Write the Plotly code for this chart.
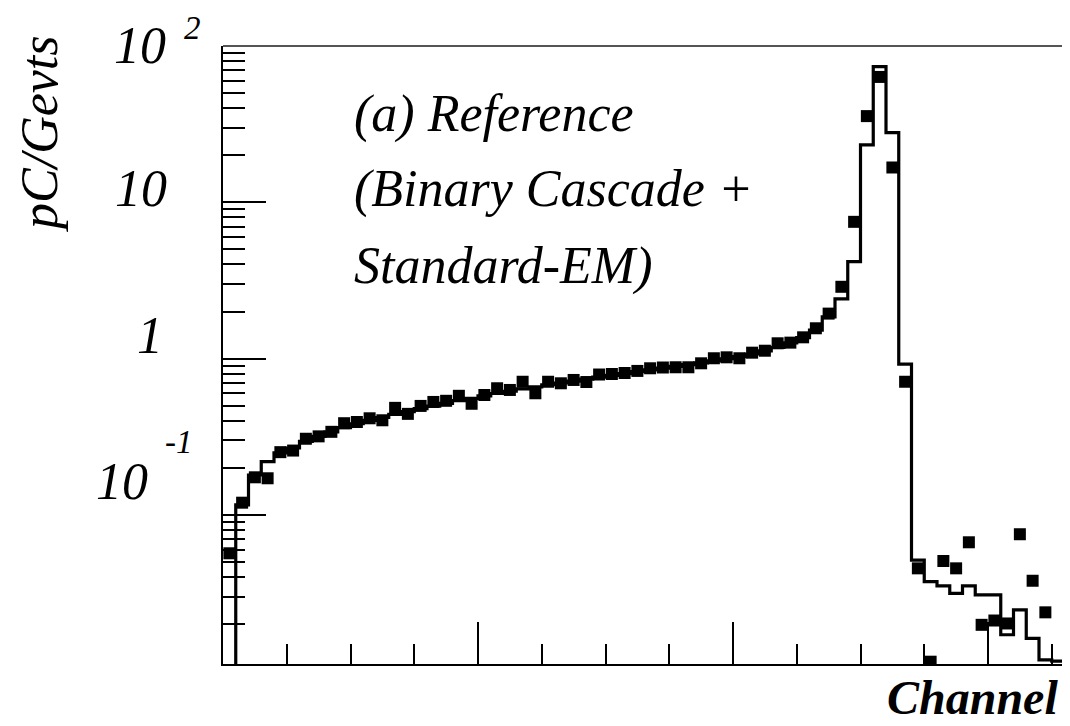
import plotly.graph_objects as go

# ---------------- data ----------------
# histogram (simulation), one value per channel bin (bin 0 is empty)
hist_values = [
    0.001, 0.116, 0.180, 0.219, 0.249, 0.268, 0.295, 0.318, 0.340, 0.362,
    0.383, 0.402, 0.420, 0.440, 0.458, 0.478, 0.497, 0.517, 0.538, 0.556,
    0.577, 0.598, 0.618, 0.640, 0.660, 0.680, 0.698, 0.718, 0.738, 0.760,
    0.780, 0.802, 0.825, 0.848, 0.870, 0.892, 0.915, 0.940, 0.968, 0.998,
    1.03, 1.07, 1.12, 1.18, 1.26, 1.36, 1.52, 1.85, 2.41, 4.17,
    23.3, 73.7, 27.9, 0.923, 0.0514, 0.0374, 0.0351, 0.0315, 0.0351, 0.0308,
    0.0308, 0.0171, 0.0247, 0.0162, 0.0118, 0.0116, 0.0116,
]

# data points (square markers), one per channel bin
data_values = [
    0.0568, 0.1197, 0.174, 0.1715, 0.252, 0.258, 0.307, 0.318, 0.340, 0.386,
    0.393, 0.415, 0.403, 0.484, 0.443, 0.498, 0.528, 0.537, 0.578, 0.514,
    0.585, 0.646, 0.630, 0.711, 0.600, 0.711, 0.695, 0.730, 0.708, 0.791,
    0.797, 0.809, 0.834, 0.867, 0.877, 0.880, 0.880, 0.933, 1.005, 1.019,
    1.005, 1.091, 1.123, 1.253, 1.265, 1.368, 1.563, 1.94, 2.88, 7.5,
    35.6, 63.4, 16.7, 0.711, 0.0455, 0.0115, 0.0507, 0.0455, 0.0668, 0.0198,
    0.0211, 0.0202, 0.0752, 0.0379, 0.0238, None,
]

bin_edges = list(range(len(hist_values) + 1))
bin_centers = [i + 0.5 for i in range(len(data_values))]

y_major_ticks = [0.1, 1, 10, 100]
y_minor_ticks = [d * 10.0 ** e for e in (-2, -1, 0, 1) for d in range(2, 10)]
x_major_ticks = [20, 40, 60]
x_minor_ticks = [5, 10, 15, 25, 30, 35, 45, 50, 55, 65]

y_tick_text = ["10", "10", "1", "10"]
y_tick_exp = ["2", None, None, "-1"]

# ---------------- figure ----------------
OFF = 8                      # page body margin of the html page
W, H = 1070 - OFF, 726 - OFF
L, R, T = 223 - OFF, 0, 46 - OFF
B = H - (664 - OFF)
PW, PH = W - L - R, H - T - B


def px(x):  # page pixel -> paper x
    return (x - OFF - L) / PW


def py(y):  # page pixel -> paper y
    return (H - B - (y - OFF)) / PH


fig = go.Figure()

fig.add_trace(go.Scatter(
    x=bin_edges,
    y=hist_values + [hist_values[-1]],
    mode="lines",
    line=dict(shape="hv", color="black", width=3.2),
    hoverinfo="skip",
    showlegend=False,
))

fig.add_trace(go.Scatter(
    x=bin_centers,
    y=data_values,
    mode="markers",
    marker=dict(symbol="square", size=12, color="black", line=dict(width=0)),
    showlegend=False,
    cliponaxis=True,
))

serif = "Liberation Serif, Times New Roman, serif"

annotations = []
# y tick labels (placed as in the reference)
lab_pos = [(140, 45), (141, 188), (150, 335), (122, 481)]
exp_pos = [(192, 22), None, None, (179, 442)]
for txt, exp, (lx, ly), ep in zip(y_tick_text, y_tick_exp, lab_pos, exp_pos):
    annotations.append(dict(
        text=f"<i>{txt}</i>", x=px(lx), y=py(ly), xref="paper", yref="paper",
        xanchor="center", yanchor="middle", showarrow=False,
        font=dict(family=serif, size=52, color="black"),
    ))
    if exp:
        if ep[1] < 30:
            ann_y, ann_anchor = py(OFF + 1), "top"
        else:
            ann_y, ann_anchor = py(ep[1]), "middle"
        annotations.append(dict(
            text=f"<i>{exp}</i>", x=px(ep[0]), y=ann_y, xref="paper", yref="paper",
            xanchor="center", yanchor=ann_anchor, showarrow=False, borderpad=0,
            font=dict(family=serif, size=33, color="black"),
        ))

# y axis title
annotations.append(dict(
    text="<i>pC/Gevts</i>", x=px(40), y=py(134), xref="paper", yref="paper",
    xanchor="center", yanchor="middle", showarrow=False, textangle=-90,
    font=dict(family=serif, size=52, color="black"),
))
# x axis title (kept inside the page bottom)
annotations.append(dict(
    text="<b><i>Channel</i></b>", x=px(972), y=py(725), xref="paper", yref="paper",
    xanchor="center", yanchor="bottom", showarrow=False, borderpad=0,
    font=dict(family=serif, size=48, color="black"),
))
# legend text block
for line, ly in [("(a) Reference", 114), ("(Binary Cascade +", 189), ("Standard-EM)", 266)]:
    annotations.append(dict(
        text=f"<i>{line}</i>", x=px(352), y=py(ly), xref="paper", yref="paper",
        xanchor="left", yanchor="middle", showarrow=False,
        font=dict(family=serif, size=52, color="black"),
    ))

fig.update_layout(
    width=W, height=H,
    margin=dict(l=L, r=R, t=T, b=B, pad=0),
    paper_bgcolor="white", plot_bgcolor="white",
    annotations=annotations,
    shapes=[dict(type="line", xref="paper", yref="paper", x0=0, x1=1, y0=1, y1=1,
                 line=dict(color="#555555", width=2))],
)

fig.update_xaxes(
    range=[0, PW / 12.75],
    showgrid=False, zeroline=False,
    showline=True, linecolor="black", linewidth=2,
    tickvals=x_major_ticks, ticks="inside", ticklen=42, tickwidth=2, tickcolor="black",
    showticklabels=False,
    minor=dict(tickvals=x_minor_ticks, ticks="inside", ticklen=20, tickwidth=2, tickcolor="black"),
)
fig.update_yaxes(
    type="log", range=[-1.954, 2.0],
    showgrid=False, zeroline=False,
    showline=True, linecolor="black", linewidth=2,
    tickvals=y_major_ticks, ticks="inside", ticklen=43, tickwidth=2, tickcolor="black",
    showticklabels=False,
    minor=dict(tickvals=y_minor_ticks, ticks="inside", ticklen=22, tickwidth=2, tickcolor="black"),
)

fig.write_html("out.html")
